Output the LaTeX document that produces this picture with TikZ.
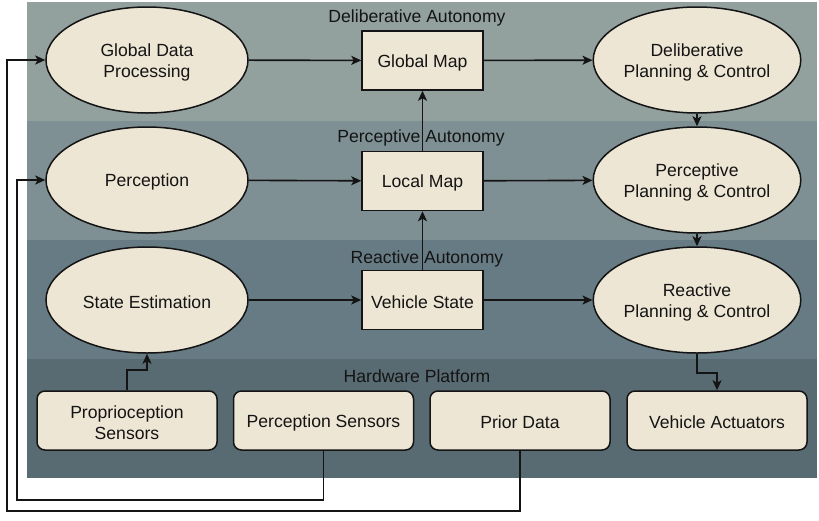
\documentclass[tikz,border=0pt]{standalone}
\usepackage{fontspec}
\setmainfont{Liberation Sans}
\usetikzlibrary{arrows.meta,shapes.geometric}

\definecolor{bandA}{RGB}{146,160,158}
\definecolor{bandB}{RGB}{126,144,147}
\definecolor{bandC}{RGB}{103,123,132}
\definecolor{bandD}{RGB}{89,107,114}
\definecolor{cream}{RGB}{237,230,213}
\definecolor{ink}{RGB}{20,20,20}

\tikzset{
  % a tall invisible strut sets the text a little lower in its box
  txt/.style={font=\fontsize{17.6}{21}\selectfont, text=ink, align=center,
    execute at begin node={\rule{0pt}{16.8pt}}},
  twolines/.style={execute at begin node={\rule{0pt}{38.4pt}}},
  proc/.style={txt, ellipse, draw=ink, fill=cream, line width=1.5pt,
    minimum width=202pt, minimum height=106pt, inner sep=0pt},
  store/.style={txt, rectangle, draw=ink, fill=cream, line width=1.5pt,
    minimum width=121pt, minimum height=59pt, inner sep=0pt},
  device/.style={txt, rectangle, rounded corners=8pt, draw=ink, fill=cream,
    line width=1.5pt, minimum width=180pt, minimum height=59pt, inner sep=0pt},
  layer/.style={txt, inner sep=0pt},
  arr/.style={draw=ink, line width=1.6pt,
    -{Stealth[length=10pt,width=9pt,inset=2.5pt]}}
}

\begin{document}
\begin{tikzpicture}[x=1pt,y=-1pt]
  \useasboundingbox[fill=white] (0,0) rectangle (819,520);

  % autonomy layers
  \fill[bandA] (27,2)   rectangle (817,121);
  \fill[bandB] (27,121) rectangle (817,240);
  \fill[bandC] (27,240) rectangle (817,359);
  \fill[bandD] (27,359) rectangle (817,478);

  \node[layer] (lDel) at (417,16)  {Deliberative Autonomy};
  \node[layer] (lPer) at (421,136) {Perceptive Autonomy};
  \node[layer] (lRea) at (427,257) {Reactive Autonomy};
  \node[layer] (lHw)  at (417,374) {Hardware Platform};

  % processing nodes
  \node[proc,twolines] (gdp) at (147,60)  {Global Data\\Processing};
  \node[proc] (perc) at (147,180) {Perception};
  \node[proc] (se)  at (147,300) {State Estimation};

  \node[store] (gmap) at (422.5,60.5)  {Global Map};
  \node[store] (lmap) at (422.5,181)   {Local Map};
  \node[store] (vst)  at (422.5,300)   {Vehicle State};

  \node[proc,twolines] (dpc) at (697,60)  {Deliberative\\Planning \& Control};
  \node[proc,twolines] (ppc) at (697,180) {Perceptive\\Planning \& Control};
  \node[proc,twolines] (rpc) at (697,300) {Reactive\\Planning \& Control};

  % hardware
  \node[device,twolines] (prop) at (127,420.5) {Proprioception\\Sensors};
  \node[device] (psen) at (323.5,420.5) {Perception Sensors};
  \node[device] (prior) at (520,420.5) {Prior Data};
  \node[device] (act) at (717,420.5) {Vehicle Actuators};

  % horizontal flow
  \draw[arr] (gdp) -- (gmap);
  \draw[arr] (gmap) -- (dpc);
  \draw[arr] (perc) -- (lmap);
  \draw[arr] (lmap) -- (ppc);
  \draw[arr] (se) -- (vst);
  \draw[arr] (vst) -- (rpc);

  % vertical flow
  \draw[arr] (lmap) -- (gmap);
  \draw[arr] (vst) -- (lmap);
  \draw[arr] (dpc) -- (ppc);
  \draw[arr] (ppc) -- (rpc);

  \draw[arr] (prop.north) -- ++(0,-20) -| (se.south);
  \draw[arr] (rpc.south) -- ++(0,19) -| (act.north);

  % feedback from sensors and prior data
  \coordinate (loopIn)  at (17,500);
  \coordinate (loopOut) at (7,511);
  \draw[arr] (psen.south) |- (loopIn) |- (perc.west);
  \draw[arr] (prior.south) |- (loopOut) |- (gdp.west);
\end{tikzpicture}
\end{document}
